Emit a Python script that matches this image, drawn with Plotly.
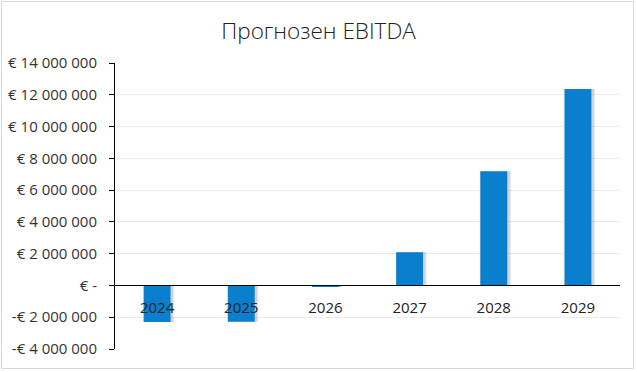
import plotly.graph_objects as go

categories = ["2024", "2025", "2026", "2027", "2028", "2029"]
ebitda = [-2300000, -2280000, -100000, 2090000, 7180000, 12370000]
tick_values = [-4000000, -2000000, 0, 2000000, 4000000, 6000000, 8000000, 10000000, 12000000, 14000000]
tick_labels = ["-€ 4 000 000", "-€ 2 000 000", "€ -", "€ 2 000 000", "€ 4 000 000", "€ 6 000 000",
               "€ 8 000 000", "€ 10 000 000", "€ 12 000 000", "€ 14 000 000"]
title_text = "Прогнозен EBITDA"

y_min, y_max = -4000000, 14000000
font_family = "Open Sans, Noto Sans, sans-serif"

ml, mr, mt, mb = 115, 17, 63, 23
W, H = 637, 372
pw, ph = W - ml - mr, H - mt - mb

fig = go.Figure()
# soft shadow
fig.add_trace(go.Bar(x=categories, y=ebitda, width=0.32, offset=-0.16 + 0.03,
                     marker=dict(color="rgba(0,0,0,0.10)", line=dict(width=0)),
                     hoverinfo="skip", showlegend=False))
fig.add_trace(go.Bar(x=categories, y=ebitda, width=0.32, offset=-0.16 + 0.045,
                     marker=dict(color="rgba(0,0,0,0.08)", line=dict(width=0)),
                     hoverinfo="skip", showlegend=False))
fig.add_trace(go.Bar(x=categories, y=ebitda, width=0.32, offset=-0.16,
                     marker=dict(color="#0A7FCD", line=dict(width=0)),
                     showlegend=False))

zero_pos = (0 - y_min) / (y_max - y_min)

fig.update_layout(
    width=W, height=H,
    margin=dict(l=ml, r=mr, t=mt, b=mb),
    paper_bgcolor="white", plot_bgcolor="white",
    barmode="overlay",
    title=dict(text=title_text, x=0.5, xref="container", xanchor="center",
               y=1 - 31 / H, yref="container", yanchor="middle",
               font=dict(family=font_family, size=22.5, color="#222222", weight=300)),
    font=dict(family=font_family, size=14, color="#333333"),
    xaxis=dict(type="category", anchor="free", position=zero_pos,
               showline=True, linecolor="black", linewidth=1.2,
               ticks="", showgrid=False, tickfont=dict(size=15, color="#222222"),
               ticklabelstandoff=8, fixedrange=True),
    yaxis=dict(range=[y_min, y_max], tickvals=tick_values, ticktext=tick_labels,
               showline=True, linecolor="black", linewidth=1, ticks="outside",
               ticklen=5, tickcolor="black", showgrid=True, gridcolor="#EBEBEB",
               gridwidth=1, zeroline=False, tickfont=dict(size=15, color="#333333"),
               ticklabelstandoff=9, automargin=False, fixedrange=True),
)

# thin outer border of chart area
fig.add_shape(type="rect", xref="paper", yref="paper",
              x0=(1.5 - ml) / pw, x1=(633.5 - ml) / pw,
              y0=(H - mb - 368.5) / ph, y1=(H - mb - 1.5) / ph,
              line=dict(color="#D9D9D9", width=1), layer="below")

fig.write_html("out.html", config={"displayModeBar": False},
               post_script="document.body.style.margin='0';document.body.style.overflow='hidden';")
